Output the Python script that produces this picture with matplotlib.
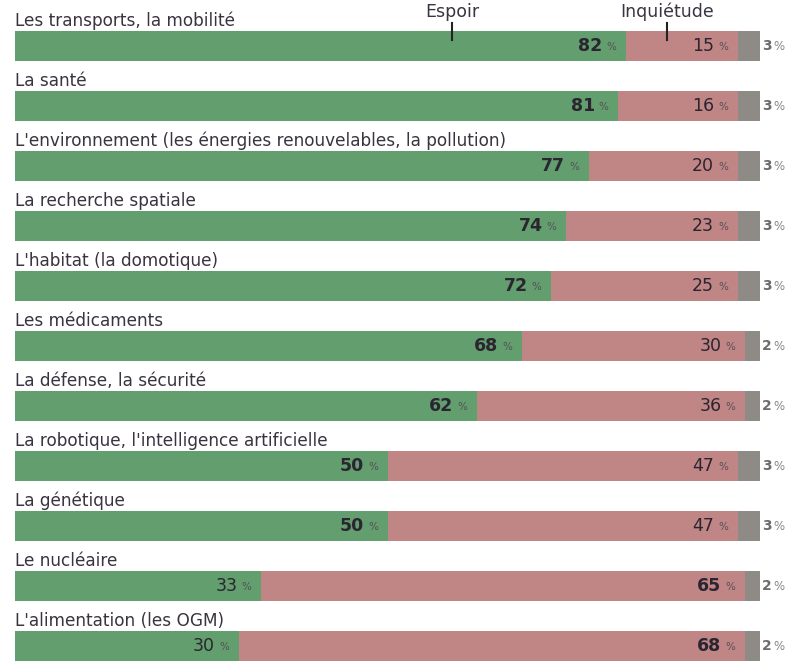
import matplotlib.pyplot as plt

# Espoir / Inquiétude / sans opinion, en %
themes = ["Les transports, la mobilité",
          "La santé",
          "L'environnement (les énergies renouvelables, la pollution)",
          "La recherche spatiale",
          "L'habitat (la domotique)",
          "Les médicaments",
          "La défense, la sécurité",
          "La robotique, l'intelligence artificielle",
          "La génétique",
          "Le nucléaire",
          "L'alimentation (les OGM)"]
espoir = [82, 81, 77, 74, 72, 68, 62, 50, 50, 33, 30]
inquietude = [15, 16, 20, 23, 25, 30, 36, 47, 47, 65, 68]
nsp = [3, 3, 3, 3, 3, 2, 2, 3, 3, 2, 2]

GREEN = "#639e6e"
PINK = "#c08585"
GREY = "#8e8a86"
TXT = "#2a2530"

plt.rcParams['font.family'] = ['DejaVu Sans']

W, H = 792, 661
fig = plt.figure(figsize=(W / 100, H / 100), dpi=100)
ax = fig.add_axes([15 / W, 0, 745 / W, 1])
ax.set_xlim(0, 100)
ax.set_ylim(H, 0)
ax.axis("off")

# row layout in pixels
row_h = 60
bar_h = 30
first = 46

def pct(x, y, val, bold, col=TXT):
	# number then small "%" just left of x
	ax.annotate(str(val), (x, y), xytext=(-17, 0), textcoords="offset points",
		ha="right", va="center", fontsize=12.5,
		fontweight="bold" if bold else "normal", color=col, annotation_clip=False)
	ax.annotate("%", (x, y), xytext=(-7, -1), textcoords="offset points",
		ha="right", va="center", fontsize=7.5, color="#555055", annotation_clip=False)

for i in range(len(themes)):
	y = first + row_h * i
	e, q, n = espoir[i], inquietude[i], nsp[i]
	ax.barh(y, e, height=bar_h, left=0, color=GREEN, edgecolor="none")
	ax.barh(y, q, height=bar_h, left=e, color=PINK, edgecolor="none")
	ax.barh(y, n, height=bar_h, left=e + q, color=GREY, edgecolor="none")
	ax.text(0, y - bar_h / 2 - 4.5, themes[i], ha="left", va="baseline",
		fontsize=12.2, color="#3a3340")
	pct(e, y, e, e > q)
	pct(e + q, y, q, q > e)
	ax.annotate(str(n), (100, y), xytext=(1.5, 0), textcoords="offset points",
		ha="left", va="center", fontsize=10, color="#6e6a6a",
		fontweight="bold", annotation_clip=False)
	ax.annotate("%", (100, y), xytext=(9.5, -0.5), textcoords="offset points",
		ha="left", va="center", fontsize=8.5, color="#8a8585", annotation_clip=False)

# column headers with small ticks
ax.text(58.7, 12, "Espoir", ha="center", va="center", fontsize=12.5, color="#3a3340")
ax.plot([58.7, 58.7], [23, 40], color="#222222", lw=1.5)
ax.text(87.5, 12, "Inquiétude", ha="center", va="center", fontsize=12.5, color="#3a3340")
ax.plot([87.5, 87.5], [23, 40], color="#222222", lw=1.5)

fig.savefig("out.png", dpi=100)
